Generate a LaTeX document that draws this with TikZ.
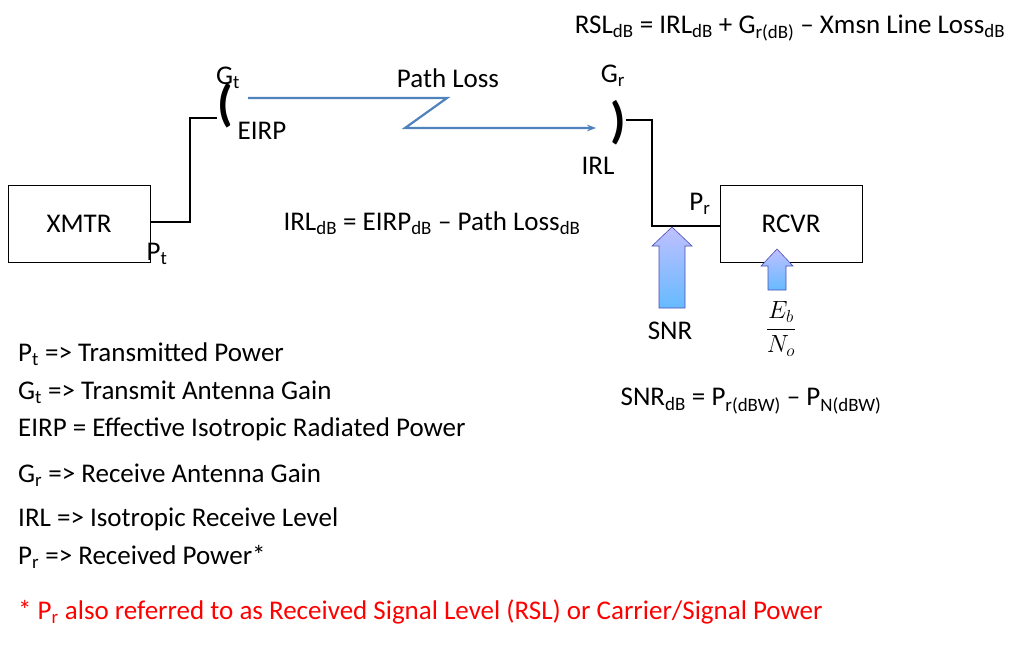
\documentclass[tikz,border=0pt]{standalone}
\usepackage{fontspec}
\setmainfont{Carlito}
\usetikzlibrary{arrows.meta}
\begin{document}
\begin{tikzpicture}[x=1pt,y=-1pt,
  txt/.style={font=\fontsize{27}{30}\selectfont,inner sep=0pt},
  box/.style={draw,line width=0.8pt,minimum width=142pt,minimum height=77pt,font=\fontsize{27}{30}\selectfont},
  wire/.style={line width=2.6pt},
  paren/.style={font=\fontsize{50}{50}\selectfont\bfseries,inner sep=0pt},
  fat/.style={draw=blue!40!gray,line width=0.6pt,left color=blue!25!white,right color=blue!45!cyan!60!white,shading angle=0}]
\useasboundingbox (0,0) rectangle (1024,645);
\node[box] (xmtr) at (79,224) {XMTR};
\node[box] (rcvr) at (791,224) {RCVR};
\node[paren] (lp) at (225,106) {(};
\node[paren] (rp) at (618,123) {)};
\coordinate (a1) at (190,222); \coordinate (a2) at (190,118);
\draw[wire] (xmtr.east|-a1) -- (a1) -- (a2) -- (lp.west|-a2);
\coordinate (b1) at (652,120); \coordinate (b2) at (652,226);
\draw[wire] (rp.east|-b1) -- (b1) -- (b2) -- (rcvr.west|-b2);
\coordinate (p1) at (248,98); \coordinate (p2) at (447,98); \coordinate (p3) at (405,128);
\coordinate (p4) at (596,128);
\draw[line width=2.2pt,draw={rgb,255:red,80;green,130;blue,190},-{Stealth[length=9pt]}] (p1) -- (p2) -- (p3) -- (p4);
\node[txt] (gt) at (228,78) {G\textsubscript{t}};
\node[txt] (eirp) at (262,131) {EIRP};
\node[txt] (pl) at (448,78) {Path Loss};
\node[txt] (gr) at (613,76) {G\textsubscript{r}};
\node[txt] (irl) at (598,166) {IRL};
\node[txt] (pt) at (157,254) {P\textsubscript{t}};
\node[txt] (pr) at (700,204) {P\textsubscript{r}};
\node[txt] (rsl) at (790,28) {RSL\textsubscript{dB} = IRL\textsubscript{dB} + G\textsubscript{r(dB)} -- Xmsn Line Loss\textsubscript{dB}};
\node[txt] (irleq) at (432,223) {IRL\textsubscript{dB} = EIRP\textsubscript{dB} -- Path Loss\textsubscript{dB}};
\node[txt] (snreq) at (751,401) {SNR\textsubscript{dB} = P\textsubscript{r(dBW)} -- P\textsubscript{N(dBW)}};
% fat arrows
\draw[fat] (659,308) -- (659,246) -- (652,246) -- (672,227) -- (692,246) -- (685,246) -- (685,308) -- cycle;
\draw[fat] (768,290) -- (768,266) -- (761,266) -- (777,249) -- (793,266) -- (786,266) -- (786,290) -- cycle;
\node[txt] (snr) at (670,331) {SNR};
\node[font=\fontsize{24}{28}\selectfont] (ebno) at (781,329) {$\displaystyle\frac{E_b}{N_o}$};
% legend
\node[txt,anchor=west] (l1) at (18,354) {P\textsubscript{t} => Transmitted Power};
\node[txt,anchor=west] (l2) at (18,392) {G\textsubscript{t} => Transmit Antenna Gain};
\node[txt,anchor=west] (l3) at (18,429) {EIRP = Effective Isotropic Radiated Power};
\node[txt,anchor=west] (l4) at (18,475) {G\textsubscript{r} => Receive Antenna Gain};
\node[txt,anchor=west] (l5) at (18,519) {IRL => Isotropic Receive Level};
\node[txt,anchor=west] (l6) at (18,557) {P\textsubscript{r} => Received Power*};
\node[txt,anchor=west,text=red] (l7) at (18,612) {* P\textsubscript{r} also referred to as Received Signal Level (RSL) or Carrier/Signal Power};
\end{tikzpicture}
\end{document}
